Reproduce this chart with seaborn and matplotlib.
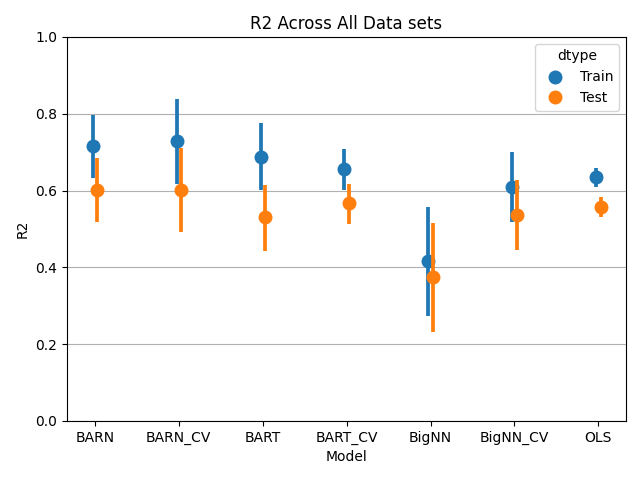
import pandas as pd
import numpy as np
import matplotlib
matplotlib.use('Agg')
import matplotlib.pyplot as plt
import seaborn as sns

# 모델 / 데이터 구분
models = ['BARN', 'BARN_CV', 'BART', 'BART_CV', 'BigNN', 'BigNN_CV', 'OLS']
dtypes = ['Train', 'Test']

# 평균 R2
train_mean = [0.716, 0.729, 0.687, 0.655, 0.417, 0.609, 0.635]
test_mean = [0.602, 0.602, 0.530, 0.567, 0.374, 0.536, 0.556]

# 신뢰구간 아래 / 위
train_lo = [0.632, 0.616, 0.602, 0.602, 0.273, 0.518, 0.609]
train_hi = [0.797, 0.838, 0.775, 0.708, 0.558, 0.701, 0.660]
test_lo = [0.517, 0.491, 0.442, 0.512, 0.232, 0.445, 0.530]
test_hi = [0.684, 0.710, 0.615, 0.618, 0.516, 0.628, 0.583]

# long format 테이블 만들기 (구간 아래, 평균, 구간 위)
rows = []
for i, m in enumerate(models):
    for v in (train_lo[i], train_mean[i], train_hi[i]):
        rows.append({'Model': m, 'dtype': 'Train', 'R2': v})
    for v in (test_lo[i], test_mean[i], test_hi[i]):
        rows.append({'Model': m, 'dtype': 'Test', 'R2': v})
df = pd.DataFrame(rows)

fig, ax = plt.subplots(figsize=(6.4, 4.8), dpi=100)
sns.pointplot(data=df, x='Model', y='R2', hue='dtype', order=models, hue_order=dtypes,
              estimator='median', errorbar=lambda v: (v.min(), v.max()),
              dodge=True, linestyle='none', markersize=8,
              err_kws={'solid_capstyle': 'butt'}, ax=ax)
ax.set_title('R2 Across All Data sets')
ax.set_ylim(0, 1.0)
ax.set_xlim(-0.3275, 6.3275)
ax.yaxis.grid(True)
ax.set_axisbelow(True)
ax.legend(title='dtype', loc='upper right')
plt.subplots_adjust(left=0.105, right=0.978, top=0.923, bottom=0.123)
plt.savefig('out.png')
